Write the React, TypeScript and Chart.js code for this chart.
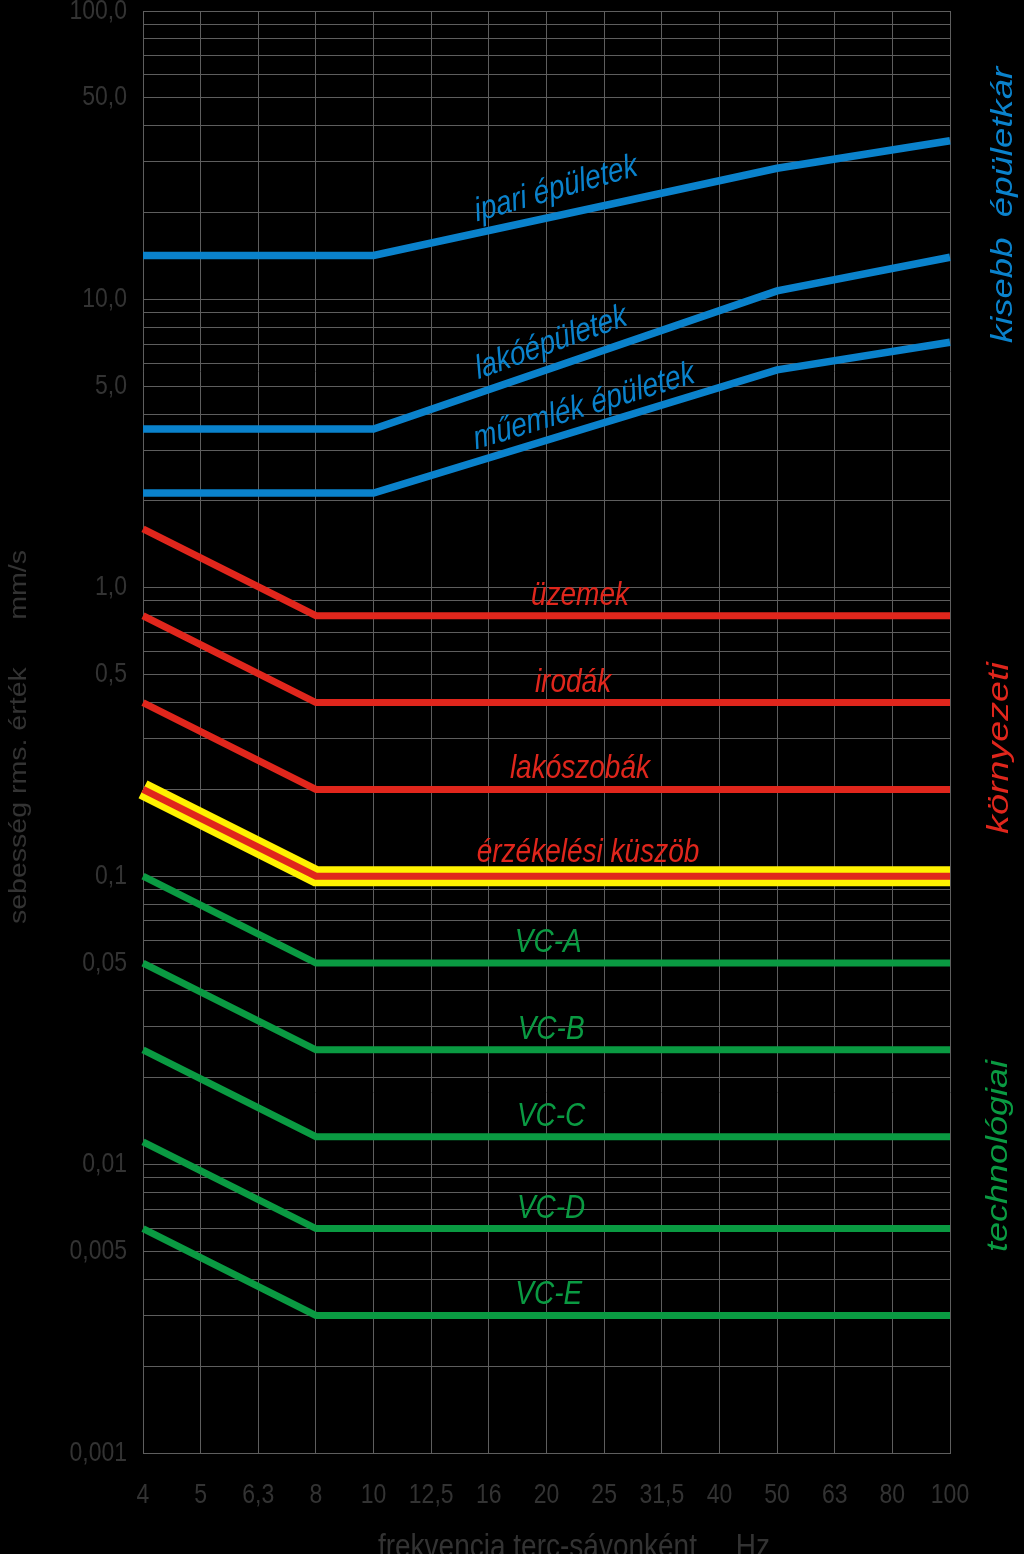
import React, { useEffect, useRef } from 'react';
import { Chart, registerables } from 'chart.js';

Chart.register(...registerables);

// ---- data ----
const frequencies = ['4', '5', '6,3', '8', '10', '12,5', '16', '20', '25', '31,5', '40', '50', '63', '80', '100'];
const _ = null;
const ipariEpuletek = [14.2, _, _, _, 14.2, _, _, _, _, _, _, 28.5, _, _, 35.5];
const lakoEpuletek = [3.55, _, _, _, 3.55, _, _, _, _, _, _, 10.7, _, _, 14];
const muemlekEpuletek = [2.13, _, _, _, 2.13, _, _, _, _, _, _, 5.7, _, _, 7.1];
const uzemek = [1.6, _, _, 0.8, _, _, _, _, _, _, _, _, _, _, 0.8];
const irodak = [0.8, _, _, 0.4, _, _, _, _, _, _, _, _, _, _, 0.4];
const lakoszobak = [0.4, _, _, 0.2, _, _, _, _, _, _, _, _, _, _, 0.2];
const kuszob = [0.2, _, _, 0.1, _, _, _, _, _, _, _, _, _, _, 0.1];
const vcA = [0.1, _, _, 0.05, _, _, _, _, _, _, _, _, _, _, 0.05];
const vcB = [0.05, _, _, 0.025, _, _, _, _, _, _, _, _, _, _, 0.025];
const vcC = [0.025, _, _, 0.0125, _, _, _, _, _, _, _, _, _, _, 0.0125];
const vcD = [0.012, _, _, 0.006, _, _, _, _, _, _, _, _, _, _, 0.006];
const vcE = [0.006, _, _, 0.003, _, _, _, _, _, _, _, _, _, _, 0.003];

const yTickValues = [100, 50, 10, 5, 1, 0.5, 0.1, 0.05, 0.01, 0.005, 0.001];
const yTickLabels = ['100,0', '50,0', '10,0', '5,0', '1,0', '0,5', '0,1', '0,05', '0,01', '0,005', '0,001'];
const yDecades = [0.001, 0.01, 0.1, 1, 10];
const yMultipliers = [1, 2, 3, 4, 5, 6, 7, 8, 9];

const yTitle = 'sebesség rms. érték      mm/s';
const xTitle = 'frekvencia terc-sávonként     Hz';

// ---- styles ----
const BLUE = '#0a82cc';
const RED = '#e0261c';
const GREEN = '#0a9a42';
const YELLOW = '#fff200';
const GRID = '#5e5e5e';
const AXIS_TEXT = '#333333';
const FONT = '"Liberation Sans", Arial, sans-serif';
const STRETCH = 1.2;

// in-chart labels: category index, value, text, colour, angle (deg)
const flatLabels = [
  { text: 'üzemek', idx: 7.58, v: 0.8, color: RED },
  { text: 'irodák', idx: 7.46, v: 0.4, color: RED },
  { text: 'lakószobák', idx: 7.58, v: 0.2, color: RED },
  { text: 'érzékelési küszöb', idx: 7.72, v: 0.1, color: RED, dy: -14 },
  { text: 'VC-A', idx: 7.03, v: 0.05, color: GREEN },
  { text: 'VC-B', idx: 7.08, v: 0.025, color: GREEN },
  { text: 'VC-C', idx: 7.08, v: 0.0125, color: GREEN },
  { text: 'VC-D', idx: 7.08, v: 0.006, color: GREEN },
  { text: 'VC-E', idx: 7.04, v: 0.003, color: GREEN },
];
const slantLabels = [
  { text: 'ipari épületek', idx: 7.165, v: 24.1, angle: -16, color: BLUE },
  { text: 'lakóépületek', idx: 7.08, v: 7.06, angle: -20, color: BLUE },
  { text: 'műemlék épületek', idx: 7.65, v: 4.24, angle: -17, color: BLUE },
];
const sideLabels = [
  { text: 'kisebb  épületkár', x: 1012, y: 205, color: BLUE, stretch: 1.26 },
  { text: 'környezeti', x: 1008, y: 748, color: RED, stretch: 1.3 },
  { text: 'technológiai', x: 1007, y: 1156, color: GREEN, stretch: 1.24 },
];

type TextOpts = {
  size: number;
  color: string;
  italic?: boolean;
  align?: CanvasTextAlign;
  baseline?: CanvasTextBaseline;
  angle?: number;
  vertical?: boolean;
  stretch?: number;
};

function drawText(ctx: CanvasRenderingContext2D, text: string, x: number, y: number, o: TextOpts) {
  const k = o.stretch ?? STRETCH;
  ctx.save();
  ctx.font = `${o.italic ? 'italic ' : ''}${o.size}px ${FONT}`;
  ctx.fillStyle = o.color;
  ctx.textAlign = o.align ?? 'center';
  ctx.textBaseline = o.baseline ?? 'alphabetic';
  ctx.translate(x, y);
  if (o.vertical) {
    ctx.rotate(-Math.PI / 2);
    ctx.scale(k, 1);
  } else {
    ctx.scale(1, k);
    if (o.angle) ctx.rotate(Math.atan(Math.tan((o.angle * Math.PI) / 180) / k));
  }
  ctx.fillText(text, 0, 0);
  ctx.restore();
}

const textPlugin = {
  id: 'customTexts',
  afterDatasetsDraw(chart: any) {
    const ctx: CanvasRenderingContext2D = chart.ctx;
    const xs = chart.scales.x;
    const ys = chart.scales.y;
    const area = chart.chartArea;

    yTickValues.forEach((v, i) => {
      drawText(ctx, yTickLabels[i], area.left - 16, ys.getPixelForValue(v), {
        size: 23, color: AXIS_TEXT, align: 'right', baseline: 'middle',
      });
    });
    frequencies.forEach((f, i) => {
      drawText(ctx, f, xs.getPixelForValue(i), area.bottom + 50, { size: 23, color: AXIS_TEXT });
    });
    drawText(ctx, xTitle, 574, area.bottom + 104, { size: 28, color: AXIS_TEXT });
    drawText(ctx, yTitle, 26, 737, { size: 23, color: AXIS_TEXT, vertical: true, stretch: 1.24 });

    flatLabels.forEach((l) => {
      drawText(ctx, l.text, xs.getPixelForValue(l.idx), ys.getPixelForValue(l.v) + (l.dy ?? -11), {
        size: 28, color: l.color, italic: true,
      });
    });
    slantLabels.forEach((l) => {
      drawText(ctx, l.text, xs.getPixelForValue(l.idx), ys.getPixelForValue(l.v), {
        size: 28, color: l.color, italic: true, baseline: 'middle', angle: l.angle,
      });
    });
    sideLabels.forEach((l) => {
      drawText(ctx, l.text, l.x, l.y, { size: 29, color: l.color, italic: true, vertical: true, stretch: l.stretch });
    });
  },
};

function line(data: (number | null)[], color: string, width: number) {
  return {
    data,
    borderColor: color,
    backgroundColor: color,
    borderWidth: width,
    pointRadius: 0,
    spanGaps: true,
    fill: false,
    tension: 0,
    borderCapStyle: 'butt' as const,
    borderJoinStyle: 'miter' as const,
  };
}

export default function App() {
  const canvasRef = useRef<HTMLCanvasElement | null>(null);

  useEffect(() => {
    if (!canvasRef.current) return;
    const gridValues: number[] = [];
    yDecades.forEach((d) => yMultipliers.forEach((m) => gridValues.push(+(m * d).toPrecision(6))));
    gridValues.push(100);

    const chart = new Chart(canvasRef.current, {
      type: 'line',
      data: {
        labels: frequencies,
        datasets: [
          line(ipariEpuletek, BLUE, 7.5),
          line(lakoEpuletek, BLUE, 7.5),
          line(muemlekEpuletek, BLUE, 7.5),
          line(uzemek, RED, 7),
          line(irodak, RED, 7),
          line(lakoszobak, RED, 7),
          line(kuszob, RED, 7),
          line(kuszob, YELLOW, 20),
          line(vcA, GREEN, 7),
          line(vcB, GREEN, 7),
          line(vcC, GREEN, 7),
          line(vcD, GREEN, 7),
          line(vcE, GREEN, 7),
        ],
      },
      options: {
        responsive: false,
        animation: false,
        layout: { padding: { top: 11, right: 74, bottom: 0, left: 0 }, autoPadding: false },
        plugins: { legend: { display: false }, tooltip: { enabled: false } },
        scales: {
          x: {
            type: 'category',
            offset: false,
            grid: { color: GRID, lineWidth: 1, drawTicks: false },
            border: { color: GRID, width: 1 },
            ticks: { display: false },
            afterFit: (s: any) => { s.height = 101; },
          },
          y: {
            type: 'logarithmic',
            min: 0.001,
            max: 100,
            grid: { color: GRID, lineWidth: 1, drawTicks: false },
            border: { color: GRID, width: 1 },
            ticks: { display: false },
            afterBuildTicks: (s: any) => { s.ticks = gridValues.map((v) => ({ value: v })); },
            afterFit: (s: any) => { s.width = 143; },
          },
        },
      } as any,
      plugins: [textPlugin],
    });
    return () => chart.destroy();
  }, []);

  return (
    <div style={{ position: 'absolute', left: 0, top: 0, width: 1024, height: 1554, background: '#000', overflow: 'hidden' }}>
      <canvas ref={canvasRef} width={1024} height={1554} style={{ display: 'block' }} />
    </div>
  );
}
